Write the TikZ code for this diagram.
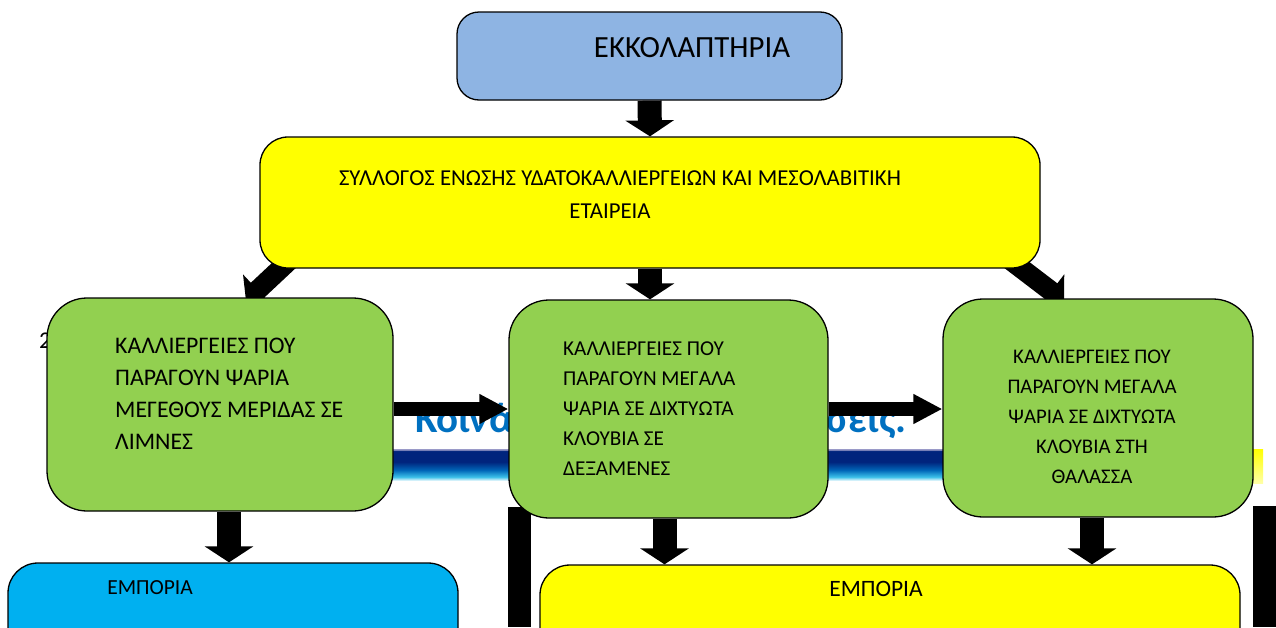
\documentclass[tikz,border=0pt]{standalone}
\usepackage{fontspec}
\setmainfont{Carlito}
\usetikzlibrary{arrows.meta,backgrounds,calc}

\definecolor{hatchblue}{HTML}{8EB4E3}
\definecolor{unionyellow}{HTML}{FFFF00}
\definecolor{farmgreen}{HTML}{92D050}
\definecolor{tradeblue}{HTML}{00B0F0}
\definecolor{titleblue}{HTML}{0070C0}
\definecolor{bandnavy}{HTML}{00247D}
\definecolor{bandmid}{HTML}{0066B8}
\definecolor{bandsky}{HTML}{3CC0E8}
\definecolor{bandedge}{HTML}{9A9AC8}

\pgfdeclareverticalshading{bandshade}{100bp}{
  color(0bp)=(white); color(25bp)=(white); color(28bp)=(white);
  color(34bp)=(bandsky); color(44bp)=(bandmid); color(56bp)=(bandnavy);
  color(72bp)=(bandnavy); color(74bp)=(bandedge); color(100bp)=(bandedge)}

\tikzset{
  box/.style={draw=black, line width=1.3pt, inner sep=0pt},
  boxtext/.style={inner sep=0pt, text=black},
  vertarrow/.style={line width=24pt, -{Triangle[length=16pt, width=48pt]}},
  slantarrow/.style={line width=20pt, -{Triangle[length=16pt, width=42pt]}},
  sidearrow/.style={line width=14pt, -{Triangle[length=29pt, width=28pt]}},
}

\begin{document}
\begin{tikzpicture}[x=1pt,y=-1pt]
  \useasboundingbox (0,0) rectangle (1276,627);
  % boxes
  \node[box, fill=hatchblue, rounded corners=22pt, minimum width=385, minimum height=88] (hatch) at (649.5,56) {};
  \node[box, fill=unionyellow, rounded corners=28pt, minimum width=780, minimum height=131] (union) at (650,202.5) {};
  \node[box, fill=farmgreen, rounded corners=40pt, minimum width=346, minimum height=213] (lake) at (220,404.5) {};
  \node[box, fill=farmgreen, rounded corners=40pt, minimum width=319, minimum height=218] (tank) at (668.5,409) {};
  \node[box, fill=farmgreen, rounded corners=40pt, minimum width=310, minimum height=218] (sea) at (1098,408) {};
  \begin{scope}
    \clip (0,0) rectangle (1276,627);
    \node[box, fill=tradeblue, rounded corners=30pt, minimum width=450, minimum height=117] (tradeL) at (233,621.5) {};
    \node[box, fill=unionyellow, rounded corners=30pt, minimum width=700, minimum height=115] (tradeR) at (890,622.5) {};
  \end{scope}

  % texts
  \node[boxtext, font=\fontsize{30.8}{36}\selectfont] (hatchtxt) at (692,48) {ΕΚΚΟΛΑΠΤΗΡΙΑ};
  \node[boxtext, font=\fontsize{22.8}{33}\selectfont] (unionA) at (620,178) {ΣΥΛΛΟΓΟΣ ΕΝΩΣΗΣ ΥΔΑΤΟΚΑΛΛΙΕΡΓΕΙΩΝ ΚΑΙ ΜΕΣΟΛΑΒΙΤΙΚΗ};
  \node[boxtext, font=\fontsize{22.8}{33}\selectfont] (unionB) at (610,211) {ΕΤΑΙΡΕΙΑ};
  \node[boxtext, anchor=north west, align=left, font=\fontsize{23.8}{32}\selectfont] (laketxt) at (115,338)
    {ΚΑΛΛΙΕΡΓΕΙΕΣ ΠΟΥ\\ΠΑΡΑΓΟΥΝ ΨΑΡΙΑ\\ΜΕΓΕΘΟΥΣ ΜΕΡΙΔΑΣ ΣΕ\\ΛΙΜΝΕΣ};
  \node[boxtext, anchor=north west, align=left, font=\fontsize{21.2}{29.8}\selectfont] (tanktxt) at (563,342)
    {ΚΑΛΛΙΕΡΓΕΙΕΣ ΠΟΥ\\ΠΑΡΑΓΟΥΝ ΜΕΓΑΛΑ\\ΨΑΡΙΑ ΣΕ ΔΙΧΤΥΩΤΑ\\ΚΛΟΥΒΙΑ ΣΕ\\ΔΕΞΑΜΕΝΕΣ};
  \node[boxtext, anchor=north, align=center, font=\fontsize{20.8}{30}\selectfont] (seatxt) at (1092,350)
    {ΚΑΛΛΙΕΡΓΕΙΕΣ ΠΟΥ\\ΠΑΡΑΓΟΥΝ ΜΕΓΑΛΑ\\ΨΑΡΙΑ ΣΕ ΔΙΧΤΥΩΤΑ\\ΚΛΟΥΒΙΑ ΣΤΗ\\ΘΑΛΑΣΣΑ};
  \node[boxtext, font=\fontsize{21.5}{25}\selectfont] (tradeLtxt) at (150,588) {ΕΜΠΟΡΙΑ};
  \node[boxtext, font=\fontsize{23.5}{28}\selectfont] (tradeRtxt) at (876,589) {ΕΜΠΟΡΙΑ};

  \begin{pgfonlayer}{background}
    % band and half hidden title
    \shade[shading=bandshade] (390,449) rectangle (1250,483);
    \shade[top color=unionyellow, bottom color=unionyellow!35] (1245,449) rectangle (1263,483);
    \node[inner sep=0pt, anchor=base west, text=titleblue, font=\fontsize{41}{48}\selectfont\bfseries] (titleA) at (415,432) {Κοινά};
    \node[inner sep=0pt, anchor=base east, text=titleblue, font=\fontsize{41}{48}\selectfont\bfseries] (titleB) at (907,432) {σεις.};
    \node[inner sep=0pt, anchor=base west, font=\fontsize{24}{28}\selectfont] (num) at (39,348) {2};
    % bars
    \fill (508,507) rectangle (531,627);
    \fill (1253,506) rectangle (1276,627);
    % arrows
    \draw[vertarrow] (hatch.south) -- (union.north);
    \draw[vertarrow] (union.south) -- (union.south |- tank.north);
    \draw[slantarrow] (294,256) -- (246,301);
    \draw[slantarrow] (1005,256) -- (1064,301);
    \draw[sidearrow] (lake.east |- tank.west) -- (tank.west);
    \draw[sidearrow] (tank.east) -- (sea.west |- tank.east);
    \draw[vertarrow] ($(lake.south)+(9,0)$) -- ($(lake.south |- tradeL.north)+(9,0)$);
    \draw[vertarrow] ($(tank.south)+(-4,0)$) -- ($(tank.south |- tradeR.north)+(-4,0)$);
    \draw[vertarrow] ($(sea.south)+(-6,0)$) -- ($(sea.south |- tradeR.north)+(-6,0)$);
  \end{pgfonlayer}
\end{tikzpicture}
\end{document}
